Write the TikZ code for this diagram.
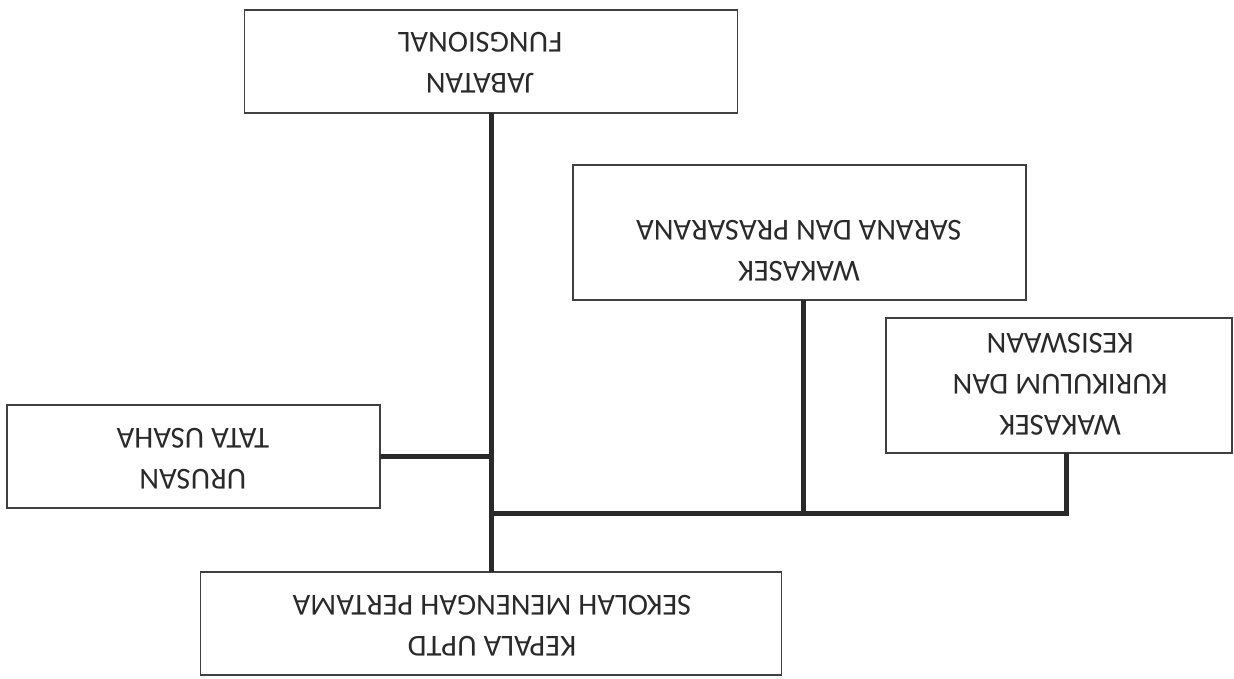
\documentclass[tikz,border=0pt]{standalone}
\usepackage{fontspec}
\setmainfont{Carlito}
\definecolor{ink}{HTML}{2A2A2A}
\definecolor{edge}{HTML}{404040}
\begin{document}
\begin{tikzpicture}[x=1pt,y=-1pt,
  box/.style={draw=edge,line width=1.8pt,fill=white,inner sep=0pt,outer sep=0pt},
  lbl/.style={text=ink,rotate=180,align=center,inner sep=0pt,font=\fontsize{30.5}{41}\selectfont},
  conn/.style={draw=ink,line width=5pt}]
\useasboundingbox[fill=white] (0,0) rectangle (1234,679);
% boxes
\node[box,minimum width=493pt,minimum height=103pt] (jab) at (491,61.5) {};
\node[box,minimum width=453pt,minimum height=135pt] (sar) at (799.5,232.5) {};
\node[box,minimum width=346pt,minimum height=135pt] (kur) at (1059,385.5) {};
\node[box,minimum width=373pt,minimum height=103pt] (uru) at (193.5,456.5) {};
\node[box,minimum width=581pt,minimum height=103pt] (kep) at (491,623.5) {};
% labels
\node[lbl] (tjab) at (480,62.5) {JABATAN\\FUNGSIONAL};
\node[lbl] (tsar) at (799,250.5) {WAKASEK\\SARANA DAN PRASARANA};
\node[lbl] (tkur) at (1060,384) {WAKASEK\\KURIKULUM DAN\\KESISWAAN};
\node[lbl] (turu) at (193,458.5) {URUSAN\\TATA USAHA};
\node[lbl] (tkep) at (492,626) {KEPALA UPTD\\SEKOLAH MENENGAH PERTAMA};
% connector points
\coordinate (j) at (491,513);
\coordinate (ks) at (1066,513);
\coordinate (ss) at (803,513);
% connectors
\draw[conn] (jab.south) -- (kep.north);
\draw[conn] (uru.east) -- (uru.east -| j);
\draw[conn] (j) -- (ks) -- (ks |- kur.south);
\draw[conn] (ss |- sar.south) -- (ss);
\end{tikzpicture}
\end{document}
